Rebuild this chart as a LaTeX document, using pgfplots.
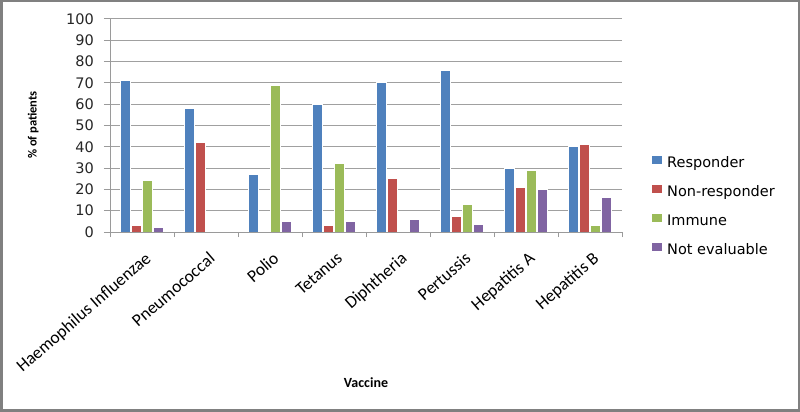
\documentclass[border=0pt]{standalone}
\usepackage{fontspec}
\setmainfont{Carlito}
\newfontfamily\dejavu{DejaVu Sans}
\usepackage{pgfplots}
\pgfplotsset{compat=1.18}
\definecolor{cR}{HTML}{4F81BD}
\definecolor{cNR}{HTML}{C0504D}
\definecolor{cI}{HTML}{9BBB59}
\definecolor{cNE}{HTML}{8064A2}
\definecolor{gridgray}{HTML}{A0A0A0}
\definecolor{axisgray}{HTML}{9A9A9A}
\definecolor{framegray}{HTML}{808080}
\begin{document}
\begin{tikzpicture}
\useasboundingbox (0,0) rectangle (800bp,412bp);
\fill[white] (0,0) rectangle (800bp,412bp);
\begin{axis}[
  at={(110bp,180bp)}, anchor=south west,
  scale only axis, width=512bp, height=213bp,
  xmin=-0.5, xmax=7.5, ymin=0, ymax=100,
  ytick={0,10,...,100},
  xtick={0,...,7},
  xticklabels={Haemophilus Influenzae,Pneumococcal,Polio,Tetanus,Diphtheria,Pertussis,Hepatitis A,Hepatitis B},
  minor xtick={-0.5,0.5,...,7.5},
  axis x line*=bottom, axis y line*=left,
  axis line style={axisgray, line width=1bp},
  tick align=outside,
  major tick length=6bp, minor tick length=5bp,
  major x tick style={draw=none},
  minor x tick style={axisgray, line width=1bp},
  y tick style={axisgray, line width=1bp},
  ymajorgrids, grid style={gridgray, line width=1bp},
  /pgf/number format/assume math mode=true,
  yticklabel style={font=\dejavu\fontsize{14.5bp}{16bp}\selectfont, text=black!85, inner sep=0pt, xshift=-10bp},
  xticklabel style={font=\fontsize{17.5bp}{19bp}\selectfont, rotate=41, anchor=north east, inner sep=0pt, xshift=-7bp, yshift=-11bp},
  xlabel={Vaccine},
  xlabel style={font=\bfseries\fontsize{14bp}{15bp}\selectfont, at={(axis description cs:0.5,-0.709)}, anchor=center},
  ylabel={\% of patients},
  ylabel style={font=\bfseries\fontsize{12.5bp}{14bp}\selectfont, at={(axis description cs:-0.150,0.502)}, anchor=center, rotate=0},
  ybar=1.33bp, bar width=10bp,
  every axis plot/.append style={draw=white, line width=1bp},
  legend style={at={(axis description cs:1.0527,0.118)}, anchor=west, draw=none, fill=none,
    font=\dejavu\fontsize{14.5bp}{16bp}\selectfont, row sep=14.2bp, column sep=5bp,
    nodes={inner sep=0pt, text height=10bp, text depth=3bp, anchor=west}},
  legend cell align=left,
  legend image code/.code={\fill[#1, draw=none] (0bp,0bp) rectangle (10bp,8.3bp);},
]
\addplot[fill=cR] coordinates {(0,71) (1,58) (2,27) (3,60) (4,70) (5,76) (6,30) (7,40)};
\addplot[fill=cNR] coordinates {(0,3) (1,42) (3,3) (4,25) (5,7.5) (6,21) (7,41)};
\addplot[fill=cI] coordinates {(0,24) (2,69) (3,32) (5,13) (6,29) (7,3)};
\addplot[fill=cNE] coordinates {(0,2) (2,5) (3,5) (4,6) (5,3.5) (6,20) (7,16)};
\legend{Responder,Non-responder,Immune,Not evaluable}
\end{axis}
\draw[framegray, line width=2.5bp] (1.25bp,1.25bp) rectangle (798.75bp,410.75bp);
\end{tikzpicture}
\end{document}
